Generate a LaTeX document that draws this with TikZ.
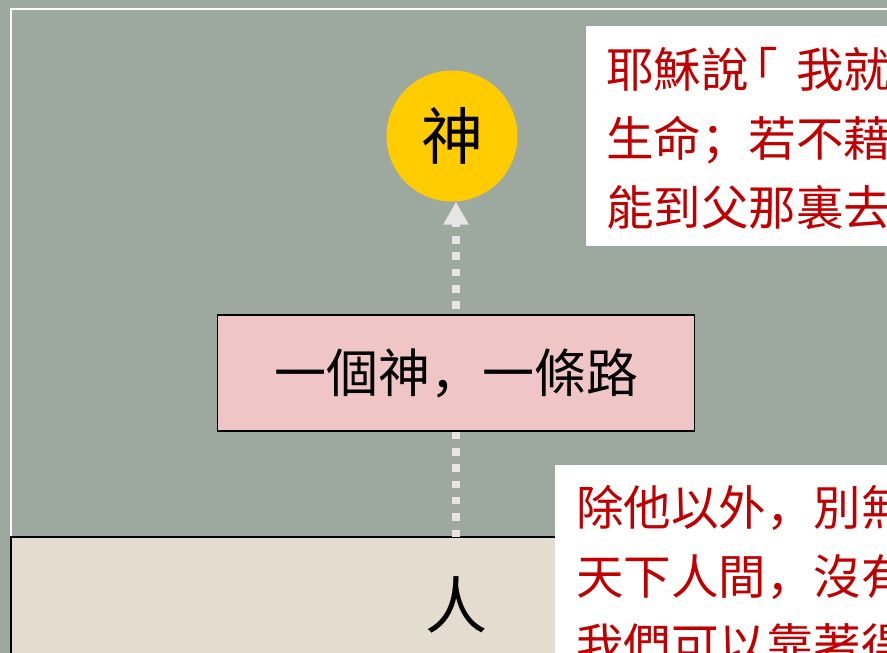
\documentclass[tikz,border=0pt]{standalone}
\usepackage{fontspec}
\newfontfamily\cjk{Noto Sans CJK TC}
\newfontfamily\cjkpunct{Noto Sans CJK SC}
\newcommand{\pc}[1]{{\cjkpunct #1}}
\newcommand{\lbrk}{\kern-0.38em「\kern0.38em}
\usetikzlibrary{arrows.meta}
\definecolor{bggray}{RGB}{157,168,159}
\definecolor{godgold}{RGB}{255,204,0}
\definecolor{waypink}{RGB}{239,197,198}
\definecolor{groundbeige}{RGB}{228,220,207}
\definecolor{quotered}{RGB}{192,0,0}
\definecolor{pathgray}{RGB}{230,230,230}
\begin{document}
\begin{tikzpicture}[x=1pt,y=-1pt,
  godcircle/.style={circle, fill=godgold, minimum size=131pt, inner sep=0pt, font=\cjk\fontsize{62}{62}\selectfont},
  waybox/.style={rectangle, fill=waypink, draw=black, line width=1.5pt, minimum width=477pt, minimum height=116pt, inner sep=0pt, font=\cjk\fontsize{52}{52}\selectfont},
  mantext/.style={inner sep=0pt, font=\cjk\fontsize{62}{62}\selectfont},
  quoteline/.style={anchor=base west, inner sep=0pt, text=quotered, font=\cjk\fontsize{47.5}{50}\selectfont},
  pathline/.style={draw=pathgray, line width=8pt, dash pattern=on 7.5pt off 8.8pt, -{Triangle[length=23pt,width=24pt]}}
]
\useasboundingbox (0,0) rectangle (887,653);
\clip (0,0) rectangle (887,653);
\fill[bggray] (0,0) rectangle (887,653);
\draw[white, line width=2pt] (11,9) rectangle (920,700);
% ground
\path[fill=groundbeige, draw=black, line width=1.5pt] (11,537) rectangle (920,700);
\node[mantext] (man) at (456,605) {人};
\coordinate (start) at (456,537);
% god
\node[godcircle] (god) at (452,136) {神};
% path
\draw[pathline] (start) -- (start |- god.south);
% way
\node[waybox] (way) at (456,373) {一個神\pc{，}一條路};
% quote boxes
\fill[white] (586,26) rectangle (920,246);
\foreach \t [count=\i] in {耶穌說\lbrk 我就, 生命\pc{；}若不藉, 能到父那裏去}
  \node[quoteline] (qa\i) at (606,{87+69*(\i-1)}) {\t};
\fill[white] (555,465) rectangle (920,700);
\foreach \t [count=\i] in {除他以外\pc{，}別無, 天下人間\pc{，}沒有, 我們可以靠著得}
  \node[quoteline] (qb\i) at (576,{525+69*(\i-1)}) {\t};
\end{tikzpicture}
\end{document}
